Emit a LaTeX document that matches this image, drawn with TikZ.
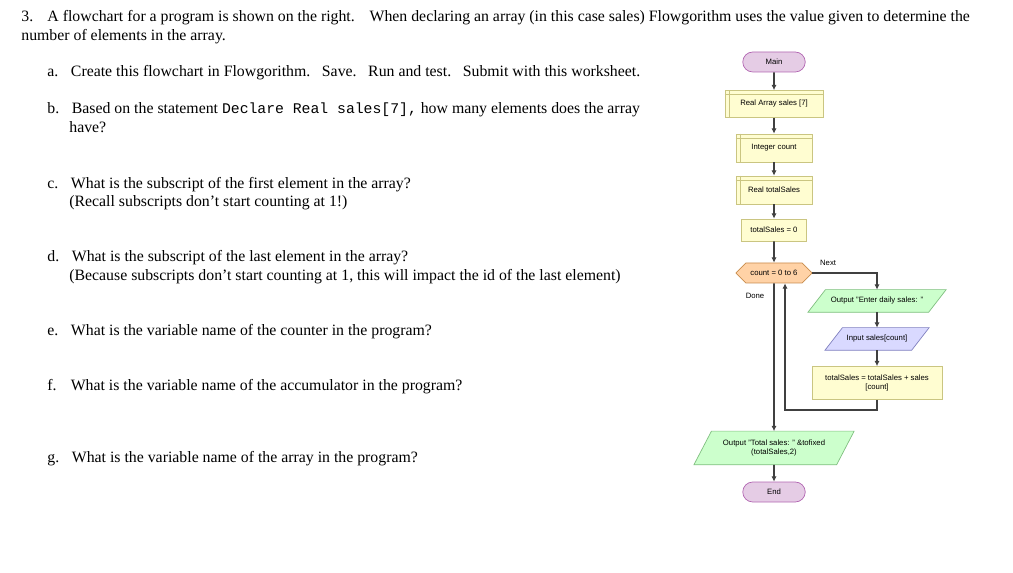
\documentclass[tikz,border=0pt]{standalone}
\usepackage{fontspec}
\setmainfont{Liberation Serif}
\setsansfont{Liberation Sans}
\setmonofont{Liberation Mono}
\usetikzlibrary{shapes.geometric,shapes.misc,arrows.meta,backgrounds}

\tikzset{
  txt/.style={anchor=base west,inner sep=0,font=\fontsize{9}{11}\selectfont},
  fc/.style={font=\sffamily\fontsize{4.4}{5.4}\selectfont,align=center,inner sep=1pt},
  term/.style={fc,rounded rectangle,draw=violet!60,fill=violet!20,minimum width=66*0.02cm,minimum height=20*0.02cm},
  decl/.style={fc,rectangle,draw=yellow!60!black!60,fill=yellow!18},
  proc/.style={fc,rectangle,draw=yellow!60!black!60,fill=yellow!18},
  loop/.style={fc,chamfered rectangle,chamfered rectangle xsep=4pt,draw=orange!70!black!70,fill=orange!35},
  io/.style={fc,rectangle},
  flow/.style={draw=black!75,line width=0.9pt,-{Latex[length=3pt,width=3pt]}},
}
\newcommand\iobox[3]{% node, fill, draw
  \begin{scope}[on background layer]
    \draw[fill=#2,draw=#3] ([xshift=5pt]#1.north west) -- ([xshift=5pt]#1.north east)
      -- ([xshift=-5pt]#1.south east) -- ([xshift=-5pt]#1.south west) -- cycle;
  \end{scope}}

\begin{document}
\begin{tikzpicture}[x=0.02cm,y=-0.02cm]
\useasboundingbox (0,0) rectangle (1013,573);
% worksheet text
\node[txt] (q3)  at (21,22) {3.\hspace{0.9em}A flowchart for a program is shown on the right.\hspace{0.6em} When declaring an array (in this case sales) Flowgorithm uses the value given to determine the};
\node[txt] (q3b) at (21,41) {number of elements in the array.};
\node[txt] (qa)  at (47,77) {a.\hspace{0.8em}Create this flowchart in Flowgorithm.\hspace{0.4em} Save.\hspace{0.4em} Run and test.\hspace{0.4em} Submit with this worksheet.};
\node[txt] (qb)  at (47,114) {b.\hspace{0.8em}Based on the statement {\fontsize{8.4}{10}\selectfont\texttt{Declare Real sales[7],}} how many elements does the array};
\node[txt] (qb2) at (69,133) {have?};
\node[txt] (qc)  at (47,189) {c.\hspace{0.8em}What is the subscript of the first element in the array?};
\node[txt] (qc2) at (69,207) {(Recall subscripts don’t start counting at 1!)};
\node[txt] (qd)  at (47,262) {d.\hspace{0.8em}What is the subscript of the last element in the array?};
\node[txt] (qd2) at (69,281) {(Because subscripts don’t start counting at 1, this will impact the id of the last element)};
\node[txt] (qe)  at (47,336) {e.\hspace{0.8em}What is the variable name of the counter in the program?};
\node[txt] (qf)  at (47,391) {f.\hspace{0.9em}What is the variable name of the accumulator in the program?};
\node[txt] (qg)  at (47,462) {g.\hspace{0.8em}What is the variable name of the array in the program?};

% flowchart
\node[term] (main) at (774,62) {Main};
\node[decl,minimum width=98*0.02cm,minimum height=27*0.02cm] (arr) at (774,104) {Real Array sales [7]};
\node[decl,minimum width=76*0.02cm,minimum height=28*0.02cm] (cnt) at (774,148) {Integer count};
\node[decl,minimum width=76*0.02cm,minimum height=28*0.02cm] (tot) at (774,190) {Real totalSales};
\foreach \n in {arr,cnt,tot}
  \draw[yellow!60!black!60] ([xshift=2.5pt]\n.north west) -- ([xshift=2.5pt]\n.south west)
                            ([yshift=-2.5pt]\n.north west) -- ([yshift=-2.5pt]\n.north east);
\node[proc,minimum width=65*0.02cm,minimum height=22*0.02cm] (zero) at (774,230) {totalSales = 0};
\node[loop,minimum width=76*0.02cm,minimum height=20*0.02cm] (for) at (774,273) {count = 0 to 6};
\node[io,minimum width=120*0.02cm,minimum height=22*0.02cm] (ask) at (877,301) {Output "Enter daily sales: "};
\iobox{ask}{green!20}{green!50!black!50}
\node[io,minimum width=86*0.02cm,minimum height=22*0.02cm] (inp) at (877,339) {Input sales[count]};
\iobox{inp}{blue!15}{blue!50!black!50}
\node[proc,minimum width=130*0.02cm,minimum height=33*0.02cm] (acc) at (877,383) {totalSales = totalSales + sales\\ {}[count]};
\node[io,minimum width=142*0.02cm,minimum height=33*0.02cm] (out) at (774,448) {Output "Total sales: " \&tofixed\\ (totalSales,2)};
\iobox{out}{green!20}{green!50!black!50}
\node[term] (end) at (774,492) {End};
\node[fc,anchor=south west] (nxt) at (818,268) {Next};
\node[fc,anchor=north] (done) at (755,291) {Done};
\coordinate (back) at (785,410);

\draw[flow] (main) -- (arr);
\draw[flow] (arr) -- (cnt);
\draw[flow] (cnt) -- (tot);
\draw[flow] (tot) -- (zero);
\draw[flow] (zero) -- (for);
\draw[flow] (for.east) -| (ask.north);
\draw[flow] (ask) -- (inp);
\draw[flow] (inp) -- (acc);
\draw[flow] (acc.south) |- (back) -- (back |- for.south);
\draw[flow] (for) -- (out);
\draw[flow] (out) -- (end);
\end{tikzpicture}
\end{document}
